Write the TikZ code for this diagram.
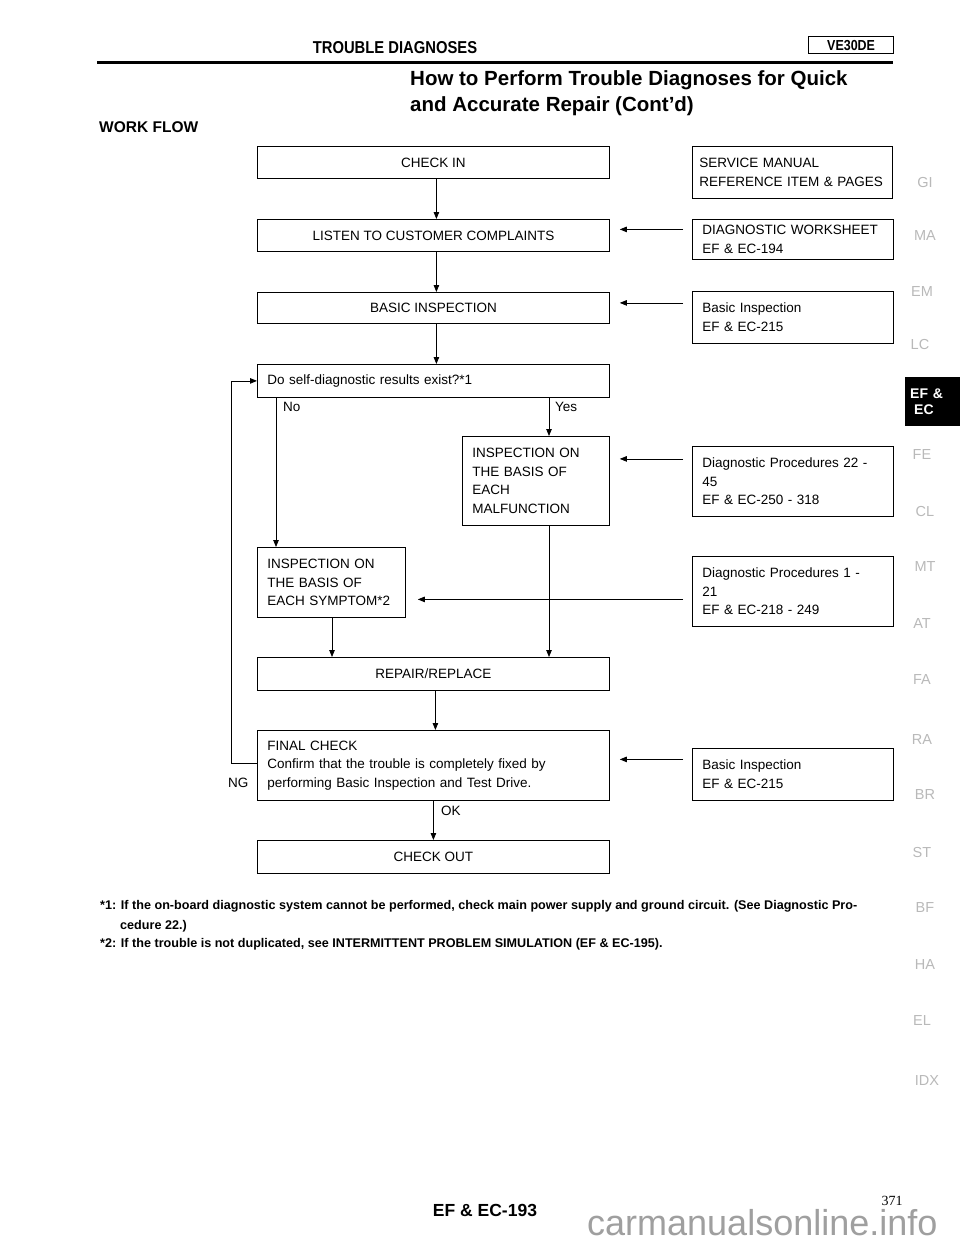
\documentclass[tikz,border=0pt]{standalone}
\usepackage{fontspec}
\setmainfont{Liberation Sans}
\newfontfamily\condfont[FakeStretch=0.86]{Liberation Sans}
\newfontfamily\serifnum{Liberation Serif}
\usetikzlibrary{arrows.meta,calc}
\begin{document}
\begin{tikzpicture}[x=1pt,y=-1pt,
  flow/.style={draw, line width=0.8pt, inner sep=0pt, font=\fontsize{13.5}{18.7}\selectfont},
  cbox/.style={flow, anchor=north west, align=center},
  lbox/.style={flow, anchor=north west, align=left, inner xsep=10pt},
  arr/.style={-{Triangle[length=7pt,width=5.5pt]}, line width=0.8pt},
  tab/.style={font=\fontsize{14.5}{14.5}\selectfont, text=gray!55, anchor=center, inner sep=0pt},
  note/.style={font=\bfseries\fontsize{12.6}{14}\selectfont, anchor=base west, inner sep=0pt},
  lbl/.style={font=\fontsize{13.5}{16}\selectfont, inner sep=0pt, anchor=west}
]
\fill[white] (0,0) rectangle (960,1242);
\useasboundingbox (0,0) rectangle (960,1242);

% header
\node[font=\condfont\bfseries\fontsize{17.2}{17.2}\selectfont, anchor=base, inner sep=0pt] (title) at (395,53) {TROUBLE DIAGNOSES};
\node[draw, line width=1.2pt, minimum width=85pt, minimum height=17pt, anchor=north west, inner sep=0pt, font=\condfont\bfseries\fontsize{14.5}{14}\selectfont] (eng) at (808,36) {VE30DE};
\coordinate (ruleL) at (97,62);
\coordinate (ruleR) at (893,62);
\draw[line width=3pt] (ruleL) -- (ruleR);
\node[font=\bfseries\fontsize{20.5}{20.5}\selectfont, anchor=base west, inner sep=0pt] (sub1) at (410,85) {How to Perform Trouble Diagnoses for Quick};
\node[font=\bfseries\fontsize{20.5}{20.5}\selectfont, anchor=base west, inner sep=0pt] (sub2) at (410,111) {and Accurate Repair (Cont'd)};
\node[font=\bfseries\fontsize{15.5}{15.5}\selectfont, anchor=base west, inner sep=0pt] (wf) at (99,132) {WORK FLOW};

% flow boxes
\node[cbox, minimum width=352pt, minimum height=32pt] (checkin) at (257,146) {CHECK IN};
\node[lbox, text width=186pt, inner xsep=7pt, minimum height=52pt] (svc) at (692,146) {SERVICE MANUAL\\REFERENCE ITEM \& PAGES};
\node[cbox, minimum width=352pt, minimum height=32pt] (listen) at (257,219) {LISTEN TO CUSTOMER COMPLAINTS};
\node[lbox, text width=181pt, minimum height=40pt] (wsheet) at (692,219) {DIAGNOSTIC WORKSHEET\\EF \& EC-194};
\node[cbox, minimum width=352pt, minimum height=31pt] (basic) at (257,292) {BASIC INSPECTION};
\node[lbox, text width=181pt, minimum height=52pt] (bref) at (692,291) {Basic Inspection\\EF \& EC-215};
\node[lbox, text width=332pt, minimum height=33pt] (self) at (257,364) {Do self-diagnostic results exist?*1};
\node[lbox, text width=127pt, minimum height=89pt] (malf) at (462,436) {INSPECTION ON\\THE BASIS OF\\EACH\\MALFUNCTION};
\node[lbox, text width=181pt, minimum height=70pt] (d22) at (692,446) {Diagnostic Procedures 22 -\\45\\EF \& EC-250 - 318};
\node[lbox, text width=128pt, minimum height=70pt] (symp) at (257,547) {INSPECTION ON\\THE BASIS OF\\EACH SYMPTOM*2};
\node[lbox, text width=181pt, minimum height=70pt] (d1) at (692,556) {Diagnostic Procedures 1 -\\21\\EF \& EC-218 - 249};
\node[cbox, minimum width=352pt, minimum height=33pt] (repair) at (257,657) {REPAIR/REPLACE};
\node[lbox, text width=332pt, minimum height=70pt] (final) at (257,730) {FINAL CHECK\\Confirm that the trouble is completely fixed by\\performing Basic Inspection and Test Drive.};
\node[lbox, text width=181pt, minimum height=52pt] (bref2) at (692,748) {Basic Inspection\\EF \& EC-215};
\node[cbox, minimum width=352pt, minimum height=33pt] (checkout) at (257,840) {CHECK OUT};

% main connectors
\draw[arr] ($(checkin.south)+(3,0)$) -- ($(listen.north)+(3,0)$);
\draw[arr] ($(listen.south)+(3,0)$) -- ($(basic.north)+(3,0)$);
\draw[arr] ($(basic.south)+(3,0)$) -- ($(self.north)+(3,0)$);
\draw[arr] ($(repair.south)+(2,0)$) -- ($(final.north)+(2,0)$);
\draw[arr] (final) -- (checkout);

% reference arrows
\draw[arr] ($(wsheet.west|-listen.east)+(-9,-6)$) -- ($(listen.east)+(10,-6)$);
\draw[arr] ($(bref.west|-basic.east)+(-9,-5)$) -- ($(basic.east)+(10,-5)$);
\draw[arr] ($(d22.west|-malf.east)+(-9,-22)$) -- ($(malf.east)+(10,-22)$);
\draw[arr] ($(d1.west)+(-9,8)$) -- ($(symp.east|-d1.west)+(12,8)$);
\draw[arr] ($(bref2.west|-final.east)+(-9,-6)$) -- ($(final.east)+(10,-6)$);

% branches
\coordinate (nox) at ($(symp.north west)+(19,0)$);
\coordinate (yx) at ($(malf.north west)+(87,0)$);
\coordinate (sx) at ($(symp.south west)+(75,0)$);
\draw[arr] (self.south -| nox) -- (nox);
\draw[arr] (self.south -| yx) -- (yx);
\draw[arr] (malf.south -| yx) -- (repair.north -| yx);
\draw[arr] (sx) -- (repair.north -| sx);
\draw[arr] ($(final.west)+(0,-2)$) -- ++(-26,0) |- (self.west);

% labels
\node[lbl] (no) at (283,407) {No};
\node[lbl] (yes) at (555,407) {Yes};
\node[lbl] (ok) at (441,811) {OK};
\node[lbl] (ng) at (228,783) {NG};

% footnotes
\node[note] (n1) at (100,909) {*1: If the on-board diagnostic system cannot be performed, check main power supply and ground circuit. (See Diagnostic Pro-};
\node[note] (n1b) at (120,929) {cedure 22.)};
\node[note] (n2) at (100,947) {*2: If the trouble is not duplicated, see INTERMITTENT PROBLEM SIMULATION (EF \& EC-195).};

% side tabs
\node[tab] (tGI) at (925,183) {GI};
\node[tab] (tMA) at (925,236) {MA};
\node[tab] (tEM) at (922,292) {EM};
\node[tab] (tLC) at (920,345) {LC};
\node[fill=black, text=white, text width=45pt, inner xsep=5pt, inner ysep=0pt, minimum height=49pt, anchor=north west, align=left, font=\bfseries\fontsize{14}{16}\selectfont] (tEF) at (905,377) {EF \&\\\hspace*{4pt}EC};
\node[tab] (tFE) at (922,455) {FE};
\node[tab] (tCL) at (925,512) {CL};
\node[tab] (tMT) at (925,567) {MT};
\node[tab] (tAT) at (922,624) {AT};
\node[tab] (tFA) at (922,680) {FA};
\node[tab] (tRA) at (922,740) {RA};
\node[tab] (tBR) at (925,795) {BR};
\node[tab] (tST) at (922,852) {ST};
\node[tab] (tBF) at (925,908) {BF};
\node[tab] (tHA) at (925,965) {HA};
\node[tab] (tEL) at (922,1020) {EL};
\node[tab] (tIDX) at (927,1080) {IDX};

% footer
\node[font=\bfseries\fontsize{17.5}{17.5}\selectfont, anchor=base, inner sep=0pt] (pg) at (485,1216) {EF \& EC-193};
\node[font=\serifnum\fontsize{14}{14}\selectfont, anchor=base, inner sep=0pt] (num) at (892,1205) {371};
\node[font=\fontsize{36}{36}\selectfont, text=gray!75, anchor=base west, inner sep=0pt] (wm) at (587,1235) {carmanualsonline.info};
\end{tikzpicture}
\end{document}
